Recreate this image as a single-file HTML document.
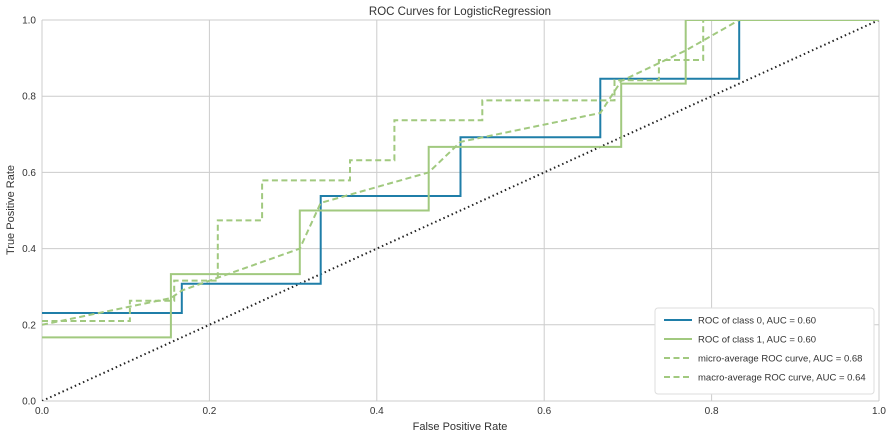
<!DOCTYPE html>
<html><head><meta charset="utf-8"><style>
body{margin:0;background:#fff;font-family:"Liberation Sans","DejaVu Sans",sans-serif}
svg text{font-family:"Liberation Sans","DejaVu Sans",sans-serif;fill:#333}
</style></head><body>
<svg id="chart" width="893" height="438" viewBox="0 0 893 438" xmlns="http://www.w3.org/2000/svg">
<defs><clipPath id="plotclip"><rect x="42" y="20" width="837" height="381"/></clipPath></defs>
<text x="460" y="15" text-anchor="middle" font-size="11.5">ROC Curves for LogisticRegression</text>
<g id="grid"></g>
<g id="series" clip-path="url(#plotclip)"></g>
<text x="460" y="430" text-anchor="middle" font-size="11">False Positive Rate</text>
<text transform="translate(14,210) rotate(-90)" text-anchor="middle" font-size="11">True Positive Rate</text>
<g id="legend"></g>
</svg>
<script>
const xTicks=[0,0.2,0.4,0.6,0.8,1.0];
const yTicks=[0,0.2,0.4,0.6,0.8,1.0];
const class0Fpr=[0,0.167,0.167,0.333,0.333,0.5,0.5,0.667,0.667,0.833,0.833,1];
const class0Tpr=[0.231,0.231,0.308,0.308,0.538,0.538,0.692,0.692,0.846,0.846,1,1];
const class1Fpr=[0,0.154,0.154,0.308,0.308,0.462,0.462,0.692,0.692,0.769,0.769,1];
const class1Tpr=[0.167,0.167,0.333,0.333,0.5,0.5,0.667,0.667,0.833,0.833,1,1];
const microFpr=[0,0.105,0.105,0.158,0.158,0.21,0.21,0.263,0.263,0.368,0.368,0.421,0.421,0.526,0.526,0.684,0.684,0.737,0.737,0.79,0.79,1];
const microTpr=[0.21,0.21,0.263,0.263,0.316,0.316,0.474,0.474,0.579,0.579,0.632,0.632,0.737,0.737,0.789,0.789,0.842,0.842,0.895,0.895,1,1];
const macroFpr=[0,0.154,0.167,0.308,0.333,0.462,0.5,0.667,0.692,0.769,0.833,1];
const macroTpr=[0.2,0.27,0.29,0.40,0.52,0.60,0.68,0.756,0.84,0.92,1,1];
const legendLabels=["ROC of class 0, AUC = 0.60","ROC of class 1, AUC = 0.60","micro-average ROC curve, AUC = 0.68","macro-average ROC curve, AUC = 0.64"];
const X0=42,X1=879,Y0=401,Y1=20;
const sx=v=>X0+v*(X1-X0), sy=v=>Y0-v*(Y0-Y1);
const NS="http://www.w3.org/2000/svg";
function mk(t,a,p){const e=document.createElementNS(NS,t);for(const k in a)e.setAttribute(k,a[k]);p.appendChild(e);return e;}
const grid=document.getElementById('grid');
xTicks.forEach(v=>{
 const l=mk('line',{x1:sx(v),x2:sx(v),y1:Y1,y2:Y0,stroke:'#ccc','stroke-width':1},grid);
 
 
 const t=mk('text',{x:sx(v),y:Y0+13,'text-anchor':'middle','font-size':10},grid);t.textContent=v.toFixed(1);
 
 
});
yTicks.forEach(v=>{
 const l=mk('line',{x1:X0,x2:X1,y1:sy(v),y2:sy(v),stroke:'#ccc','stroke-width':1},grid);
 
 
 const t=mk('text',{x:X0-6,y:sy(v)+3.5,'text-anchor':'end','font-size':10},grid);t.textContent=v.toFixed(1);
 
 
});
const ser=document.getElementById('series');
function path(xs,ys){return xs.map((x,i)=>(i?'L':'M')+sx(x).toFixed(1)+','+sy(ys[i]).toFixed(1)).join('');}
const d=mk('path',{d:path([0,1],[0,1]),stroke:'#222','stroke-width':2,'stroke-dasharray':'1.5,3',fill:'none'},ser);


const specs=[[class0Fpr,class0Tpr,'#1f7ea8',null,'roc-class-0'],[class1Fpr,class1Tpr,'#a1c97f',null,'roc-class-1'],[microFpr,microTpr,'#a1c97f','6,3.5','micro-average-roc'],[macroFpr,macroTpr,'#a1c97f','6,3.5','macro-average-roc']];
specs.forEach(s=>{
 const a={d:path(s[0],s[1]),stroke:s[2],'stroke-width':2,fill:'none'};if(s[3])a['stroke-dasharray']=s[3];
 const p=mk('path',a,ser);
 
 
});
const lg=document.getElementById('legend');
mk('rect',{x:655,y:308,width:219,height:86,fill:'#fff',stroke:'#ddd',rx:3},lg);
legendLabels.forEach((lab,i)=>{
 const y=320+i*19;
 const a={x1:664,x2:692,y1:y,y2:y,stroke:specs[i][2],'stroke-width':2};if(specs[i][3])a['stroke-dasharray']=specs[i][3];
 const l=mk('line',a,lg);
 
 
 const t=mk('text',{x:698,y:y+3.5,'font-size':9.5},lg);t.textContent=lab;
 
 
});
</script>
</body></html>
